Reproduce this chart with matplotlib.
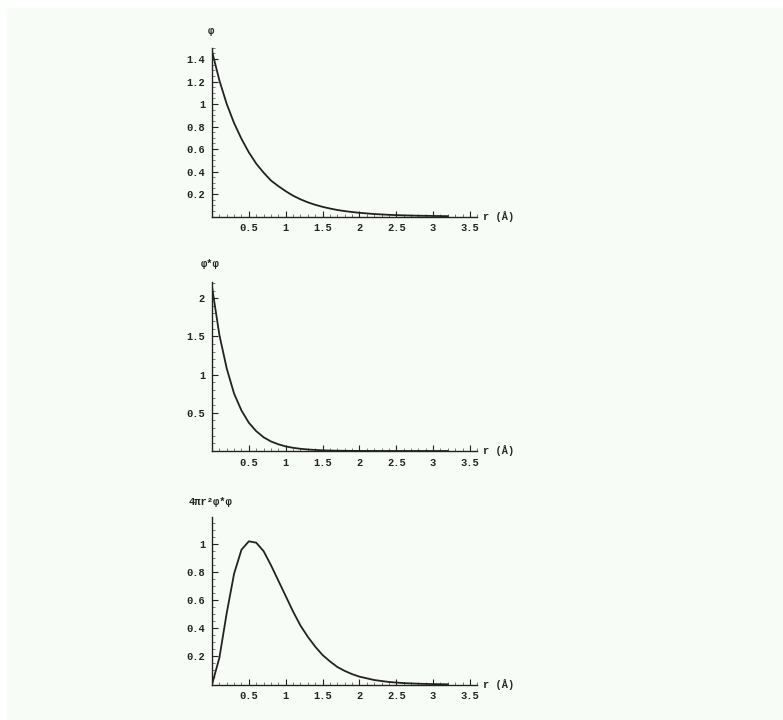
import matplotlib
matplotlib.use("Agg")
import matplotlib.pyplot as plt
from matplotlib.patches import Rectangle
from matplotlib.ticker import MultipleLocator, FixedLocator, FixedFormatter

# radial distance r in Angstrom
r = [0.0, 0.1, 0.2, 0.3, 0.4, 0.5, 0.6, 0.7, 0.8, 0.9, 1.0, 1.1, 1.2, 1.3, 1.4,
     1.5, 1.6, 1.7, 1.8, 1.9, 2.0, 2.2, 2.4, 2.6, 2.8, 3.0, 3.2]

# wavefunction phi
phi = [1.47, 1.21, 1.00, 0.83, 0.69, 0.57, 0.47, 0.39, 0.32, 0.27, 0.225, 0.185,
       0.153, 0.126, 0.104, 0.086, 0.071, 0.058, 0.048, 0.040, 0.033, 0.022,
       0.015, 0.010, 0.007, 0.005, 0.003]

# probability density phi* phi
dens = [2.15, 1.52, 1.08, 0.75, 0.53, 0.37, 0.26, 0.18, 0.125, 0.088, 0.06,
        0.042, 0.029, 0.02, 0.014, 0.009, 0.006, 0.004, 0.0028, 0.0019,
        0.0013, 0.0006, 0.0003, 0.00015, 0.00007, 0.00003, 0.00001]

# radial distribution 4 pi r^2 phi* phi
radial = [0.0, 0.19, 0.51, 0.79, 0.96, 1.02, 1.01, 0.95, 0.85, 0.74, 0.63,
          0.52, 0.42, 0.34, 0.27, 0.21, 0.165, 0.125, 0.097, 0.074, 0.056,
          0.032, 0.018, 0.010, 0.0055, 0.003, 0.0015]

x_ticks = [0.5, 1, 1.5, 2, 2.5, 3, 3.5]
x_ticklabels = ["0.5", "1", "1.5", "2", "2.5", "3", "3.5"]

panels = [
    dict(y=phi, label="φ", ymax=1.5, px_per_unit=112.5,
         yticks=[0.2, 0.4, 0.6, 0.8, 1.0, 1.2, 1.4],
         ylabels=["0.2", "0.4", "0.6", "0.8", "1", "1.2", "1.4"], minor=0.05,
         bottom=0.6993, label_gap=17),
    dict(y=dens, label="φ*φ", ymax=2.21, px_per_unit=76.4,
         yticks=[0.5, 1.0, 1.5, 2.0],
         ylabels=["0.5", "1", "1.5", "2"], minor=0.1,
         bottom=0.3736, label_gap=18),
    dict(y=radial, label="4πr²φ*φ", ymax=1.19, px_per_unit=140.4,
         yticks=[0.2, 0.4, 0.6, 0.8, 1.0],
         ylabels=["0.2", "0.4", "0.6", "0.8", "1"], minor=0.05,
         bottom=0.0493, label_gap=15),
]

W, H = 783, 720
fig = plt.figure(figsize=(W / 100, H / 100), dpi=100)
fig.patch.set_facecolor("white")
fig.patches.append(Rectangle((7 / W, 0), 1, 1 - 8 / H, transform=fig.transFigure,
                             facecolor="#f8fcf6", edgecolor="none", zorder=-10))

font = ["Liberation Mono", "DejaVu Sans Mono"]
ink = "#222222"
left = 212 / W
width = 3.6 * 73.7 / W

for p in panels:
    height = p["ymax"] * p["px_per_unit"] / H
    ax = fig.add_axes([left, p["bottom"], width, height])
    ax.set_facecolor("none")
    ax.plot(r, p["y"], color=ink, lw=1.3, solid_joinstyle="round")
    ax.set_xlim(0, 3.6)
    ax.set_ylim(0, p["ymax"])
    for s in ("top", "right"):
        ax.spines[s].set_visible(False)
    for s in ("left", "bottom"):
        ax.spines[s].set_color(ink)
        ax.spines[s].set_linewidth(1.0)
    ax.xaxis.set_major_locator(FixedLocator(x_ticks))
    ax.xaxis.set_major_formatter(FixedFormatter(x_ticklabels))
    ax.xaxis.set_minor_locator(MultipleLocator(0.1))
    ax.yaxis.set_major_locator(FixedLocator(p["yticks"]))
    ax.yaxis.set_major_formatter(FixedFormatter(p["ylabels"]))
    ax.yaxis.set_minor_locator(MultipleLocator(p["minor"]))
    ax.tick_params(which="major", direction="in", length=4, width=0.8,
                   color=ink, labelsize=7.5, labelcolor=ink, pad=5)
    ax.tick_params(which="minor", direction="in", length=2, width=0.6, color="#666666")
    for lab in ax.get_xticklabels() + ax.get_yticklabels():
        lab.set_family(font)
        lab.set_fontweight("bold")
    ax.annotate(p["label"], xy=(0, 1), xycoords="axes fraction",
                xytext=(-1, p["label_gap"] * 0.72), textcoords="offset points",
                ha="center", va="center", fontsize=7.5, family=font,
                fontweight="bold", color=ink)
    ax.text(1.02, 0.0, "r (Å)", transform=ax.transAxes, ha="left", va="center",
            fontsize=7.5, family=font, fontweight="bold", color=ink)

fig.savefig("out.png", dpi=100, facecolor=fig.get_facecolor())
